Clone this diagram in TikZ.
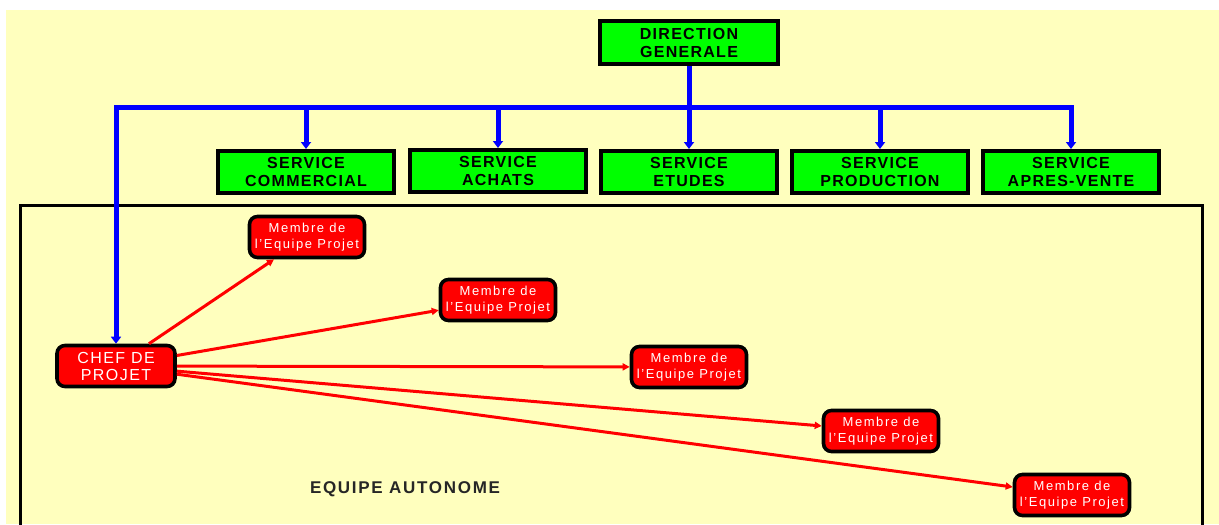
\documentclass[tikz,border=0pt]{standalone}
\usepackage{fontspec}
\setmainfont{Liberation Sans}
\usetikzlibrary{arrows.meta}

\definecolor{fondjaune}{RGB}{255,255,190}
\definecolor{vertvif}{RGB}{0,255,0}
\definecolor{rougevif}{RGB}{255,0,0}
\definecolor{bleuvif}{RGB}{0,0,255}

\begin{document}
\begin{tikzpicture}[x=0.5pt,y=-0.5pt,
		service/.style={rectangle,draw=black,line width=2pt,fill=vertvif,align=center,inner sep=0pt,minimum width=88pt,minimum height=21pt,font={\bfseries\fontsize{8}{9}\selectfont\addfontfeatures{LetterSpace=8}}},
		membre/.style={rectangle,rounded corners=4pt,draw=black,line width=1.8pt,fill=rougevif,text=white,align=center,inner sep=0pt,minimum width=57.5pt,minimum height=20.5pt,font={\fontsize{6.5}{8}\selectfont\addfontfeatures{LetterSpace=12}}},
		bus/.style={bleuvif,line width=2.5pt},
		descente/.style={bus,-{Triangle[length=3.5pt,width=5pt]}},
		lien/.style={rougevif,line width=1.5pt,-{Triangle[length=3.5pt,width=3.5pt]}}]

			\useasboundingbox (0,0) rectangle (1219,524);
			\clip (0,0) rectangle (1219,524);
			\fill[fondjaune] (6,10) rectangle (1219,524);
			\draw[black,line width=1.5pt] (20,205) rectangle (1202,545);

			% direction et services
			\node[service,minimum width=89pt,minimum height=21.5pt] (dg) at (689,43) {DIRECTION\\GENERALE};

			\node[service] (commercial) at (306,172) {SERVICE\\COMMERCIAL};
			\node[service] (achats) at (498,171) {SERVICE\\ACHATS};
			\node[service] (etudes) at (689,172) {SERVICE\\ETUDES};
			\node[service] (production) at (880,172) {SERVICE\\PRODUCTION};
			\node[service] (apresvente) at (1071,172) {SERVICE\\APRES-VENTE};

			% equipe projet
			\node[membre,minimum width=59pt,font={\fontsize{8}{8.5}\selectfont\addfontfeatures{LetterSpace=9}}] (chef) at (116,366) {CHEF DE\\PROJET};

			\node[membre] (membre1) at (307,237) {Membre de\\l'Equipe Projet};
			\node[membre] (membre2) at (498,300) {Membre de\\l'Equipe Projet};
			\node[membre] (membre3) at (689,367) {Membre de\\l'Equipe Projet};
			\node[membre] (membre4) at (881,431) {Membre de\\l'Equipe Projet};
			\node[membre] (membre5) at (1072,495) {Membre de\\l'Equipe Projet};

			\node[font={\bfseries\fontsize{8.5}{10}\selectfont\addfontfeatures{LetterSpace=10}},text=black!85] (equipe) at (405,489) {EQUIPE AUTONOME};

			% liaisons
			\coordinate (pivot) at (689,108);
			\draw[bus,line cap=rect] (chef.north |- pivot) -- (apresvente.north |- pivot);
			\draw[bus] (dg.south) -- (pivot);
			\draw[descente] (pivot) -- (etudes.north);
			\draw[descente] (commercial.north |- pivot) -- (commercial.north);
			\draw[descente] (achats.north |- pivot) -- (achats.north);
			\draw[descente] (production.north |- pivot) -- (production.north);
			\draw[descente] (apresvente.north |- pivot) -- (apresvente.north);
			\draw[descente] (chef.north |- pivot) -- (chef.north);

			\draw[lien] (chef) -- (membre1);
			\draw[lien] (chef) -- (membre2);
			\draw[lien] (chef) -- (membre3);
			\draw[lien] (chef) -- (membre4);
			\draw[lien] (chef) -- (membre5);

\end{tikzpicture}
\end{document}
